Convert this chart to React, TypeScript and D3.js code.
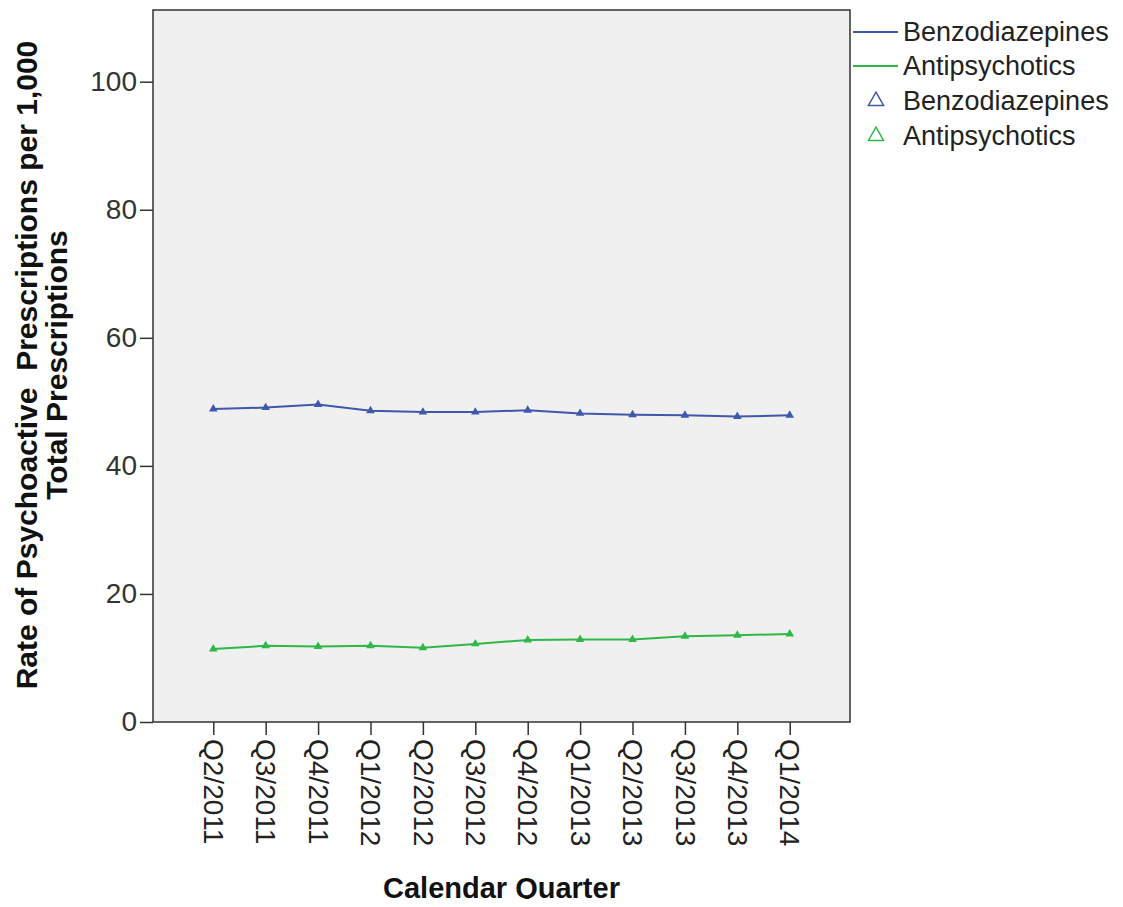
import { useEffect, useRef } from 'react';
import * as d3 from 'd3';

const quarters = ['Q2/2011', 'Q3/2011', 'Q4/2011', 'Q1/2012', 'Q2/2012', 'Q3/2012', 'Q4/2012', 'Q1/2013', 'Q2/2013', 'Q3/2013', 'Q4/2013', 'Q1/2014'];
const benzodiazepines = [48.9, 49.1, 49.6, 48.6, 48.4, 48.4, 48.7, 48.2, 48.0, 47.9, 47.7, 47.9];
const antipsychotics = [11.4, 11.9, 11.8, 11.9, 11.6, 12.2, 12.8, 12.9, 12.9, 13.4, 13.55, 13.75];
const yTicks = [0, 20, 40, 60, 80, 100];
const seriesNames = ['Benzodiazepines', 'Antipsychotics'];
const seriesColors = ['#3e58ac', '#2eb848'];

const FONT = '"Liberation Sans", Arial, sans-serif';

export default function App() {
  const svgRef = useRef<SVGSVGElement>(null);

  useEffect(() => {
    if (!svgRef.current) return;
    const svg = d3.select(svgRef.current);
    svg.selectAll('*').remove();

    const plot = { left: 153, top: 10, right: 850, bottom: 722 };

    const x = d3.scalePoint<string>()
      .domain(quarters)
      .range([plot.left, plot.right])
      .padding(1.15);

    const y = d3.scaleLinear()
      .domain([0, 111.2])
      .range([plot.bottom, plot.top]);

    svg.append('rect')
      .attr('x', plot.left)
      .attr('y', plot.top)
      .attr('width', plot.right - plot.left)
      .attr('height', plot.bottom - plot.top)
      .attr('fill', '#f0f0f0')
      .attr('stroke', '#333')
      .attr('stroke-width', 1.5);

    // y axis
    const yAxis = svg.append('g')
      .attr('transform', `translate(${plot.left},0)`)
      .call(d3.axisLeft(y).tickValues(yTicks).tickSize(13).tickPadding(3).tickFormat(d => `${d}`));
    yAxis.select('.domain').remove();
    yAxis.selectAll('line').attr('stroke', '#333').attr('stroke-width', 1.5);
    yAxis.selectAll('text')
      .attr('font-family', FONT)
      .attr('font-size', '28px')
      .attr('fill', '#333');

    // x axis
    const xAxis = svg.append('g')
      .attr('transform', `translate(0,${plot.bottom})`)
      .call(d3.axisBottom(x).tickSize(13).tickPadding(4));
    xAxis.select('.domain').remove();
    xAxis.selectAll('line').attr('stroke', '#333').attr('stroke-width', 1.5);
    xAxis.selectAll('text')
      .attr('font-family', FONT)
      .attr('font-size', '28px')
      .attr('fill', '#222')
      .attr('transform', 'rotate(90)')
      .attr('text-anchor', 'start')
      .attr('x', 17)
      .attr('y', 0)
      .attr('dy', '0.35em');

    // series
    const data = [benzodiazepines, antipsychotics];
    const line = d3.line<number>()
      .x((_, i) => x(quarters[i]) as number)
      .y(d => y(d));
    const tri = d3.symbol().type(d3.symbolTriangle).size(32);

    data.forEach((vals, s) => {
      svg.append('path')
        .datum(vals)
        .attr('d', line)
        .attr('fill', 'none')
        .attr('stroke', seriesColors[s])
        .attr('stroke-width', 2);

      svg.append('g')
        .selectAll('path')
        .data(vals)
        .enter()
        .append('path')
        .attr('d', tri)
        .attr('transform', (d, i) => `translate(${x(quarters[i])},${y(d)})`)
        .attr('fill', seriesColors[s]);
    });

    // axis titles
    svg.append('text')
      .attr('x', (plot.left + plot.right) / 2)
      .attr('y', 898)
      .attr('text-anchor', 'middle')
      .attr('font-family', FONT)
      .attr('font-weight', 'bold')
      .attr('font-size', '29px')
      .attr('fill', '#111')
      .text('Calendar Quarter');

    const yTitle = svg.append('text')
      .attr('transform', `translate(37,${(plot.top + plot.bottom) / 2 - 1}) rotate(-90)`)
      .attr('text-anchor', 'middle')
      .attr('font-family', FONT)
      .attr('font-weight', 'bold')
      .attr('font-size', '30px')
      .attr('fill', '#111');
    yTitle.append('tspan')
      .attr('x', 0)
      .attr('y', 0)
      .attr('xml:space', 'preserve')
      .style('white-space', 'pre')
      .text('Rate of Psychoactive  Prescriptions per 1,000');
    yTitle.append('tspan')
      .attr('x', 0)
      .attr('y', 30)
      .text('Total Prescriptions');

    // legend
    const legend = svg.append('g').attr('font-family', FONT).attr('font-size', '27px').attr('fill', '#222');
    seriesNames.forEach((name, i) => {
      const ly = 32 + i * 34;
      legend.append('line')
        .attr('x1', 853).attr('x2', 898)
        .attr('y1', ly).attr('y2', ly)
        .attr('stroke', seriesColors[i])
        .attr('stroke-width', 2);
      legend.append('text')
        .attr('x', 903).attr('y', ly)
        .attr('dy', '0.35em')
        .text(name);
    });
    const triBig = d3.symbol().type(d3.symbolTriangle).size(100);
    seriesNames.forEach((name, i) => {
      const ly = 101 + i * 35;
      legend.append('path')
        .attr('d', triBig)
        .attr('transform', `translate(876,${ly})`)
        .attr('fill', 'none')
        .attr('stroke', seriesColors[i])
        .attr('stroke-width', 1.5);
      legend.append('text')
        .attr('x', 903).attr('y', ly)
        .attr('dy', '0.35em')
        .text(name);
    });
  }, []);

  return (
    <svg ref={svgRef} width={1123} height={907} style={{ display: 'block', margin: '-8px', background: '#fff' }} />
  );
}
